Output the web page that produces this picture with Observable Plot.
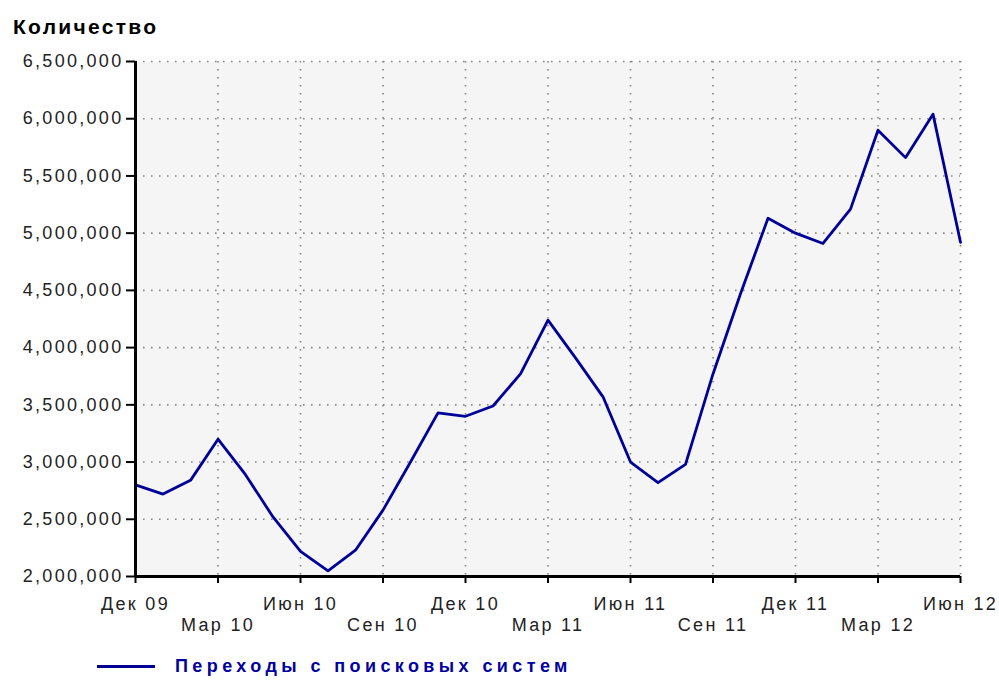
<!DOCTYPE html>
<html>
<head>
<meta charset="utf-8">
<script src="https://cdn.jsdelivr.net/npm/d3@7"></script>
<script src="https://cdn.jsdelivr.net/npm/@observablehq/plot@0.6"></script>
<style>
  html, body { margin: 0; padding: 0; background: #fff; }
  body { width: 999px; height: 682px; position: relative; overflow: hidden; font-family: "Liberation Sans", Arial, sans-serif; }
  #title { position: absolute; left: 13px; top: 16px; font-weight: bold; font-size: 21px; line-height: 21px; letter-spacing: 2.3px; color: #000; white-space: nowrap; }
  #chart { position: absolute; left: 0; top: 0; }
  #legend-swatch { position: absolute; left: 97px; top: 665px; width: 58px; height: 3px; background: #000099; }
  #legend-text { position: absolute; left: 175px; top: 657px; font-weight: bold; font-size: 18px; line-height: 18px; letter-spacing: 4.4px; color: #0000a0; white-space: nowrap; }
</style>
</head>
<body>
<div id="title">Количество</div>
<div id="chart"></div>
<div id="legend-swatch"></div>
<div id="legend-text">Переходы с поисковых систем</div>
<script>
const months = ["Дек 09","Янв 10","Фев 10","Мар 10","Апр 10","Май 10","Июн 10","Июл 10","Авг 10","Сен 10","Окт 10","Ноя 10",
  "Дек 10","Янв 11","Фев 11","Мар 11","Апр 11","Май 11","Июн 11","Июл 11","Авг 11","Сен 11","Окт 11","Ноя 11",
  "Дек 11","Янв 12","Фев 12","Мар 12","Апр 12","Май 12","Июн 12"];
const visits = [2800000,2720000,2840000,3200000,2890000,2520000,2220000,2050000,2230000,2580000,3000000,3430000,
  3400000,3490000,3770000,4240000,3910000,3570000,3000000,2820000,2980000,3770000,4470000,5130000,
  5000000,4910000,5210000,5900000,5660000,6040000,4920000];
const yTicks = [2000000,2500000,3000000,3500000,4000000,4500000,5000000,5500000,6000000,6500000];
const xTicksRow1 = ["Дек 09","Июн 10","Дек 10","Июн 11","Дек 11","Июн 12"];
const xTicksRow2 = ["Мар 10","Сен 10","Мар 11","Сен 11","Мар 12"];
const xGrid = ["Дек 09","Мар 10","Июн 10","Сен 10","Дек 10","Мар 11","Июн 11","Сен 11","Дек 11","Мар 12","Июн 12"];
const seriesName = "Переходы с поисковых систем";

const data = months.map((m, i) => ({month: m, value: visits[i]}));
const gridStyle = {stroke: "#888", strokeOpacity: 1, strokeWidth: 1.6, strokeDasharray: "1.6,6.4"};

const chart = Plot.plot({
  width: 999,
  height: 645,
  marginTop: 61,
  marginBottom: 69,
  marginLeft: 135,
  marginRight: 39,
  style: {fontFamily: "'Liberation Sans', Arial, sans-serif", fontSize: "18px", letterSpacing: "2.3px", color: "#222", background: "transparent"},
  x: {type: "point", domain: months, padding: 0, round: false},
  y: {domain: [2000000, 6500000]},
  marks: [
    Plot.frame({fill: "#f5f5f5", stroke: "none"}),
    Plot.gridY(yTicks, gridStyle),
    Plot.gridX(xGrid, gridStyle),
    Plot.line(data, {x: "month", y: "value", stroke: "#000099", strokeWidth: 2.8}),
    Plot.axisY(yTicks, {tickSize: 9, tickPadding: 3, tickFormat: d3.format(","), label: null, fontSize: 18, strokeWidth: 2, stroke: "#000"}),
    Plot.axisX(xTicksRow1, {tickSize: 7, tickPadding: 14, tickFormat: d => d, label: null, fontSize: 18, strokeWidth: 2, stroke: "#000"}),
    Plot.axisX(xTicksRow2, {tickSize: 7, tickPadding: 35, tickFormat: d => d, label: null, fontSize: 18, strokeWidth: 2, stroke: "#000"}),
    Plot.ruleX([months[0]], {stroke: "#000", strokeWidth: 3}),
    Plot.ruleY([2000000], {stroke: "#000", strokeWidth: 3})
  ]
});
document.getElementById("chart").appendChild(chart);
</script>
</body>
</html>
